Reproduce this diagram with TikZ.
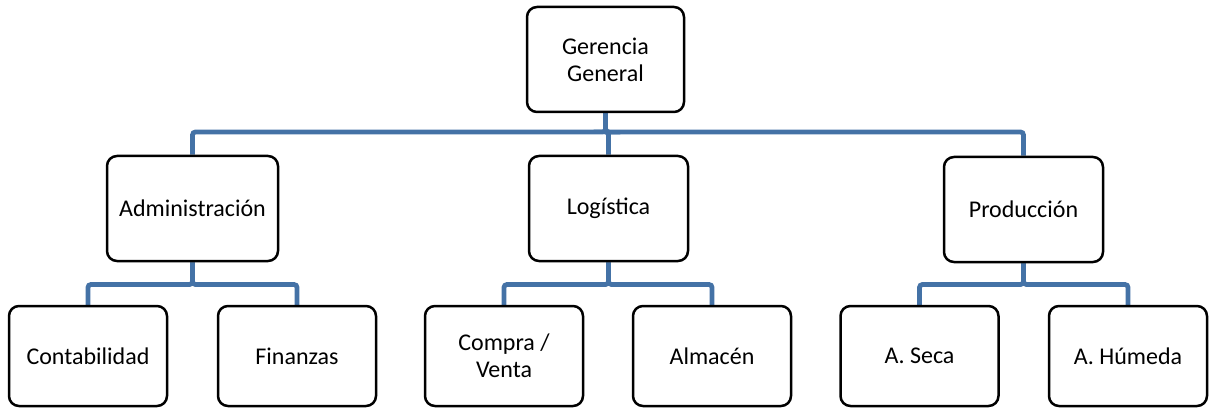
\documentclass[tikz,border=0pt]{standalone}
\usepackage{fontspec}
\setmainfont{Carlito}
\usetikzlibrary{backgrounds}
\definecolor{linkblue}{RGB}{68,114,166}
\tikzset{
  unitbox/.style={draw=black, line width=2.5pt, rounded corners=10pt, fill=white,
    align=center, inner sep=2pt, font=\fontsize{24}{27}\selectfont,
    minimum height=105pt},
  topbox/.style={unitbox, minimum width=157pt},
  midbox/.style={unitbox, minimum width=159pt},
  leafbox/.style={unitbox, minimum width=158pt, minimum height=100pt},
  link/.style={draw=linkblue, line width=4.8pt, rounded corners=3pt}
}
\begin{document}
\begin{tikzpicture}[x=1pt, y=-1pt]
  \useasboundingbox (0,0) rectangle (1211,409);

  % boxes
  \node[topbox] (g) at (605.5,59.5) {Gerencia\\General};

  \node[midbox, minimum width=171pt] (adm) at (192.5,208.5) {Administración};
  \node[midbox] (log) at (608.5,208.5) {Logística};
  \node[midbox] (prod) at (1023.5,209.5) {Producción};

  \node[leafbox] (cont) at (88,356) {Contabilidad};
  \node[leafbox] (fin) at (297,356) {Finanzas};
  \node[leafbox] (cv) at (504,356) {Compra /\\Venta};
  \node[leafbox] (alm) at (712,356) {Almacén};
  \node[leafbox] (seca) at (919.5,356) {A. Seca};
  \node[leafbox] (hum) at (1128,356) {A. Húmeda};

  % bus levels
  \coordinate (bus1) at (0,132);
  \coordinate (bus2) at (0,284.5);

  % elbow connectors, kept behind the boxes
  \begin{pgfonlayer}{background}
    \foreach \c in {adm,log,prod}
      \path[link] (g.south) -- (g.south |- bus1) -| (\c.north);
    \foreach \p/\c in {adm/cont,adm/fin,log/cv,log/alm,prod/seca,prod/hum}
      \path[link] (\p.south) -- (\p.south |- bus2) -| (\c.north);
  \end{pgfonlayer}
\end{tikzpicture}
\end{document}
